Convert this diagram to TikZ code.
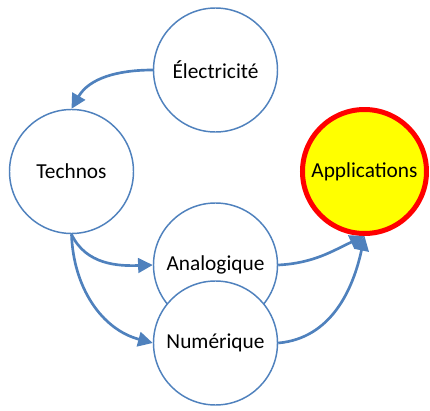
\documentclass[tikz,border=0pt]{standalone}
\usepackage{fontspec}
\setmainfont{Carlito}
\usetikzlibrary{arrows.meta}

\definecolor{bubbleblue}{RGB}{79,129,189}
\tikzset{every picture/.style={line width=0.75pt}}
\tikzset{
  bubble/.style={circle, draw=bubbleblue, line width=1.1pt, fill=white, minimum size=93pt, inner sep=0pt, font=\fontsize{16}{19}\selectfont},
  goal/.style={bubble, draw={rgb, 255:red, 255; green, 0; blue, 0}, line width=3.75pt, fill={rgb, 255:red, 255; green, 255; blue, 0}},
  flow/.style={draw=bubbleblue, line width=2pt, -{Triangle[length=11pt,width=11pt]}}
}

\begin{document}
\begin{tikzpicture}[x=0.75pt,y=0.75pt,yscale=-1,xscale=1]
	\useasboundingbox (0,0) rectangle (430,411);

	%Shape: Circle
	\node [bubble] (elec) at (215.5,70) {Électricité};
	%Shape: Circle
	\node [bubble] (techno) at (71.5,171.5) {Technos};
	%Shape: Circle
	\node [goal] (appli) at (364.5,171.5) {Applications};
	%Shape: Circle
	\node [bubble] (analog) at (215.5,265) {Analogique};
	%Shape: Circle
	\node [bubble] (numer) at (215.5,343) {Numérique};

	% angles are flipped by yscale=-1
	%Curve Lines
	\draw [flow] (elec.west) to [out=180,in=-60] (techno.north);
	%Curve Lines
	\draw [flow] (techno.south) to [out=65,in=178] (analog.west);
	%Curve Lines
	\draw [flow] (techno.south) to [out=88,in=195] (numer.west);
	%Curve Lines
	\draw [flow] (analog.east) to [out=-3,in=155] (appli.south);
	%Curve Lines
	\draw [flow] (numer.east) to [out=-5,in=102] (appli.south);

\end{tikzpicture}
\end{document}
